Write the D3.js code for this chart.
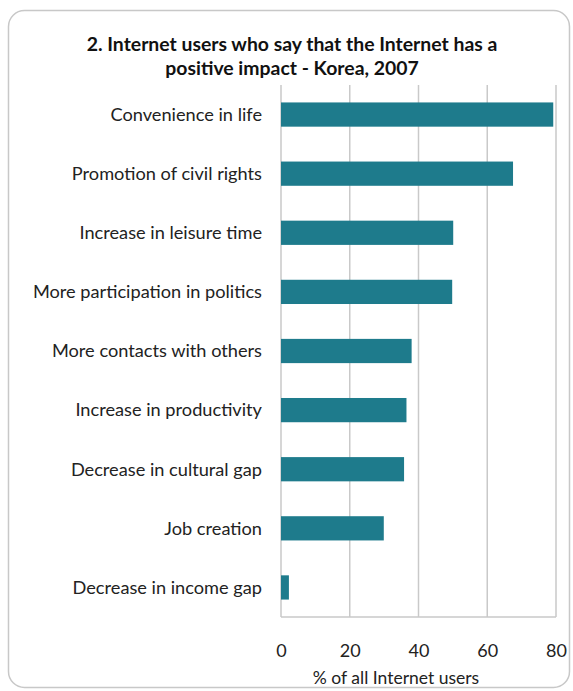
<!DOCTYPE html>
<html><head><meta charset="utf-8">
<script src="https://cdn.jsdelivr.net/npm/d3@7/dist/d3.min.js"></script>
<style>body{margin:0;background:#fff;} svg{display:block;}</style>
</head><body>
<svg id="chart" width="573" height="691"></svg>
<script>
const categories = ["Convenience in life","Promotion of civil rights","Increase in leisure time","More participation in politics","More contacts with others","Increase in productivity","Decrease in cultural gap","Job creation","Decrease in income gap"];
const values = [79.2, 67.5, 50.1, 49.8, 38.0, 36.5, 35.8, 29.9, 2.3];
const xTicks = [0, 20, 40, 60, 80];
const titleLines = ["2. Internet users who say that the Internet has a","positive impact - Korea, 2007"];
const xTitle = "% of all Internet users";

const svg = d3.select("#chart");
const font = "Lato, 'Open Sans', sans-serif";
svg.append("rect").attr("x",8.5).attr("y",10.5).attr("width",561).attr("height",677)
  .attr("rx",16).attr("fill","#fff").attr("stroke","#c8c8c8").attr("stroke-width",1.5);

const x = d3.scaleLinear().domain([0,80]).range([281,556]);
const y = d3.scaleBand().domain(categories).range([85,617]).paddingInner(0.59).paddingOuter(0.295);

svg.append("g").selectAll("line").data(xTicks).join("line")
  .attr("x1",d=>x(d)).attr("x2",d=>x(d)).attr("y1",85).attr("y2",617)
  .attr("stroke","#c9c9c9").attr("stroke-width",1.5);
svg.append("line").attr("x1",x(0)).attr("x2",x(80)).attr("y1",617).attr("y2",617)
  .attr("stroke","#c9c9c9").attr("stroke-width",1.5);

svg.append("g").selectAll("rect").data(values).join("rect")
  .attr("x",x(0)).attr("y",(d,i)=>y(categories[i]))
  .attr("width",d=>x(d)-x(0)).attr("height",y.bandwidth())
  .attr("fill","#1e7b8c");

svg.append("g").selectAll("text").data(categories).join("text")
  .attr("x",262).attr("y",d=>y(d)+y.bandwidth()/2).attr("dy","0.35em")
  .attr("text-anchor","end").attr("font-family",font).attr("font-size",18.2).attr("fill","#222")
  .text(d=>d);

const xAxis = d3.axisBottom(x).tickValues(xTicks).tickSize(0).tickPadding(0);
const ax = svg.append("g").attr("transform","translate(0,645)").call(xAxis);
ax.select(".domain").remove();
ax.selectAll("text").attr("font-family",font).attr("font-size",18).attr("fill","#222").attr("dy","0.35em").attr("y",6);

svg.append("text").attr("x",396).attr("y",684).attr("text-anchor","middle")
  .attr("font-family",font).attr("font-size",17.5).attr("fill","#222").text(xTitle);

svg.append("g").selectAll("text").data(titleLines).join("text")
  .attr("x",292).attr("y",(d,i)=>51+i*23.5).attr("text-anchor","middle")
  .attr("font-family",font).attr("font-weight","bold").attr("font-size",19.4).attr("fill","#111")
  .text(d=>d);
</script>
</body></html>
